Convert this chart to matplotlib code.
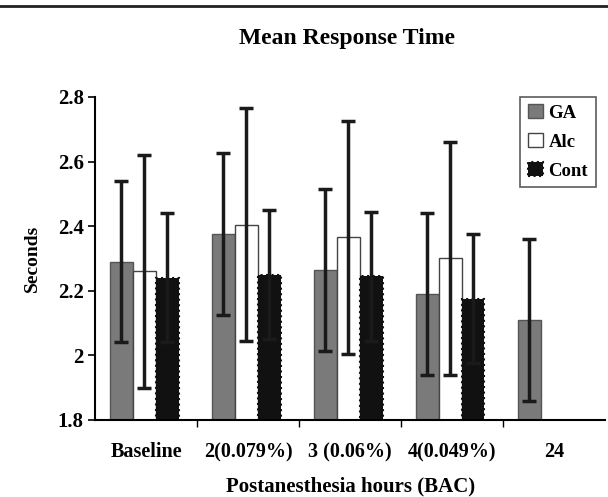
import numpy as np
import matplotlib.pyplot as plt
from matplotlib.lines import Line2D

plt.rcParams['font.family'] = ['Liberation Serif', 'DejaVu Serif']
plt.rcParams['font.weight'] = 'bold'

# data
categories = ['Baseline', '2(0.079%)', '3 (0.06%)', '4(0.049%)', '24']
ga = [2.29, 2.375, 2.265, 2.19, 2.11]
ga_err = [0.25, 0.25, 0.25, 0.25, 0.25]
alc = [2.26, 2.405, 2.365, 2.30]
alc_err = [0.36, 0.36, 0.36, 0.36]
cont = [2.24, 2.25, 2.245, 2.175]
cont_err = [0.20, 0.20, 0.20, 0.20]

fig = plt.figure(figsize=(6.08, 4.97), dpi=100)
ax = fig.add_axes([0.157, 0.155, 0.838, 0.65])

# rule across the top of the page
fig.add_artist(Line2D([0, 1], [0.988, 0.988], color='#222222', lw=2, transform=fig.transFigure))

x = np.arange(len(categories))
w = 0.225
ekw = dict(elinewidth=2.5, capthick=2.5, ecolor='#1a1a1a')

ax.bar(x - 0.245, ga, w, color='#7a7a7a', edgecolor='#555555', lw=1,
       yerr=ga_err, capsize=5, error_kw=ekw, label='GA')
ax.bar(x[:4] - 0.02, alc, w, color='white', edgecolor='#444444', lw=1,
       yerr=alc_err, capsize=5, error_kw=ekw, label='Alc')
ax.bar(x[:4] + 0.205, cont, w, color='#111111', edgecolor='#111111', lw=1.5,
       linestyle=':', yerr=cont_err, capsize=5, error_kw=ekw, label='Cont')

ax.set_ylim(1.8, 2.8)
ax.set_xlim(-0.5, 4.5)
ax.set_yticks([1.8, 2.0, 2.2, 2.4, 2.6, 2.8])
ax.set_yticklabels(['1.8', '2', '2.2', '2.4', '2.6', '2.8'], fontsize=15, fontweight='bold')

# category separators as ticks, labels at the centres
ax.set_xticks(np.arange(0.5, 4.5, 1))
ax.set_xticklabels([])
ax.set_xticks(x, minor=True)
ax.set_xticklabels(categories, minor=True, fontsize=14.5, fontweight='bold')
ax.tick_params(axis='x', which='minor', length=0, pad=16)
ax.tick_params(axis='x', which='major', length=5, width=1)
ax.tick_params(axis='y', length=5, width=1.2)

ax.spines['top'].set_visible(False)
ax.spines['right'].set_visible(False)
ax.spines['left'].set_linewidth(1.5)
ax.spines['bottom'].set_linewidth(1.5)

ax.set_ylabel('Seconds', fontsize=14, fontweight='bold', labelpad=12)
ax.set_xlabel('Postanesthesia hours (BAC)', fontsize=15, fontweight='bold', labelpad=10)
fig.text(0.571, 0.923, 'Mean Response Time', fontsize=17, fontweight='bold',
         ha='center', va='center')

leg = ax.legend(loc='upper right', bbox_to_anchor=(1.0, 1.03), fontsize=13.5,
                frameon=True, fancybox=False, edgecolor='#333333',
                handlelength=0.8, handleheight=0.8, handletextpad=0.3,
                borderpad=0.4, labelspacing=0.6)
leg.get_frame().set_linewidth(1.2)

fig.savefig('out.png', dpi=100)
